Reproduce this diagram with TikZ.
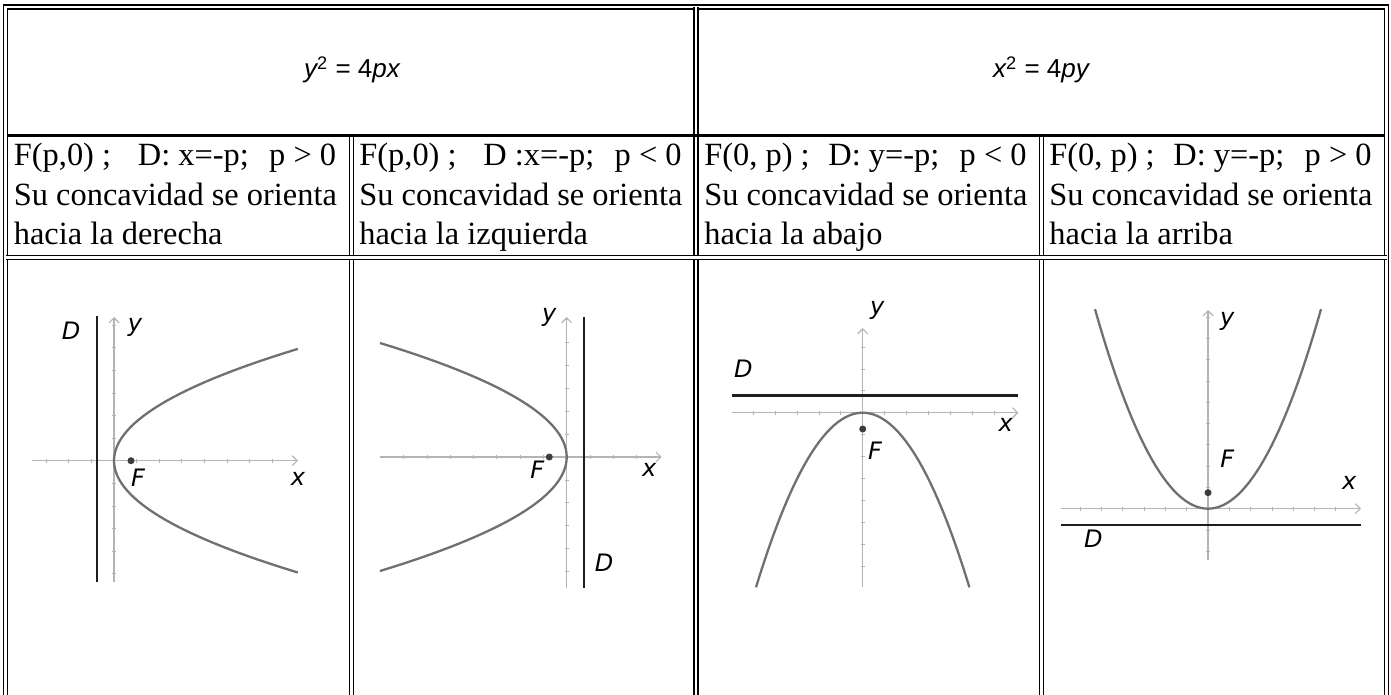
\documentclass[tikz,border=0pt]{standalone}
\usepackage{fontspec}
\setmainfont{Liberation Serif}
\newfontfamily\eqfont{Liberation Sans}
\newfontfamily\ggbfont{DejaVu Sans}
\usetikzlibrary{arrows.meta}
\definecolor{curvegray}{HTML}{707070}
\definecolor{axisgray}{HTML}{B4B4B4}
\definecolor{dirblack}{HTML}{1E1E1E}
\definecolor{focusgray}{HTML}{3C3C3C}
\tikzset{dblrule/.style={line width=0.65pt,double distance=1.35pt},
  celltext/.style={inner sep=0pt,anchor=base west,font=\fontsize{16.2}{19}\selectfont},
  endtext/.style={celltext,anchor=base east},
  eqtext/.style={inner sep=0pt,anchor=base,font=\eqfont\fontsize{13}{15}\selectfont},
  axisarrow/.style={axisgray,line width=0.55pt,-{Straight Barb[length=2.5pt,width=5pt]}},
  tickmark/.style={axisgray,line width=0.4pt},
  directrix/.style={dirblack,line width=1.4pt},
  curve/.style={curvegray,line width=1.15pt},
  focus/.style={fill=focusgray},
  lbl/.style={inner sep=0pt,font=\ggbfont\itshape\fontsize{12}{14}\selectfont}}

\begin{document}
\begin{tikzpicture}[x=0.5pt,y=-0.5pt]
\fill[white,use as bounding box] (0,0) rectangle (1391,695);
\draw[dblrule] (5.5,700) -- (5.5,7) -- (1386.5,7) -- (1386.5,700);
\draw[dblrule] (696,7) -- (696,700);
\foreach \x in {351.5,1041.5} \draw[dblrule] (\x,136) -- (\x,700);
\draw[dblrule] (5.5,257.5) -- (1386.5,257.5);
\draw[line width=1.5pt] (7.5,135.5) -- (1384.5,135.5);

\node[eqtext] (eqh) at (352,78) {{\itshape y}\textsuperscript{2} = 4{\itshape px}};
\node[eqtext] (eqv) at (1041,78) {{\itshape x}\textsuperscript{2} = 4{\itshape py}};

\foreach \i/\c/\fa/\fb/\fc/\lc in {1/7.5/{F(p,0) ;}/{D: x=-p;}/{p > 0}/{hacia la derecha},
  2/353/{F(p,0) ;}/{D :x=-p;}/{p < 0}/{hacia la izquierda},
  3/698/{F(0, p) ;}/{D: y=-p;}/{p < 0}/{hacia la abajo},
  4/1043/{F(0, p) ;}/{D: y=-p;}/{p > 0}/{hacia la arriba}}{
  \node[celltext] (foc\i) at (\c+6,166) {\fa};
  \node[celltext] (dir\i) at (\c+130,166) {\fb};
  \node[endtext] (sgn\i) at (\c+329,166) {\fc};
  \node[celltext] (conc\i) at (\c+6,205.5) {Su concavidad se orienta};
  \node[celltext] (hacia\i) at (\c+6,245) {\lc};
}

\begin{scope}[shift={(114,460.7)}]
\draw[axisarrow] (-82,0) -- (184,0);
\draw[axisarrow] (0,121.3) -- (0,-143.7);
\foreach \k in {-3,...,7} \draw[tickmark] (\k*22.6,-1.8) -- (\k*22.6,1.8);
\foreach \k in {-6,...,5} \draw[tickmark] (-1.8,\k*22.6) -- (1.8,\k*22.6);
\draw[directrix] (-17,-144.7) -- (-17,121.3);
\draw[curve] plot[domain=-111.8:111.8,samples=61] ({\x*\x/68},\x);
\fill[focus] (17,0) circle (1.75pt);
\node[lbl] (D1) at (-43,-129.7) {D};
\node[lbl] (y1) at (21,-133.7) {y};
\node[lbl] (x1) at (184,18.3) {x};
\node[lbl] (F1) at (24,17.3) {F};
\end{scope}

\begin{scope}[shift={(566.7,457)}]
\draw[axisarrow] (-186.7,0) -- (95,0);
\draw[axisarrow] (0,131) -- (0,-140);
\foreach \k in {-7,...,3} \draw[tickmark] (\k*23.3,-1.8) -- (\k*23.3,1.8);
\foreach \k in {-6,...,5} \draw[tickmark] (-1.8,\k*22.9) -- (1.8,\k*22.9);
\draw[directrix] (17.3,-140) -- (17.3,131);
\draw[curve] plot[domain=-114:114,samples=61] ({-\x*\x/69.6},\x);
\fill[focus] (-17.4,0) circle (1.75pt);
\node[lbl] (y2) at (-17.4,-140) {y};
\node[lbl] (F2) at (-29.4,12.3) {F};
\node[lbl] (x2) at (82.6,13) {x};
\node[lbl] (D2) at (37.3,105.7) {D};
\end{scope}

\begin{scope}[shift={(862.7,412.7)}]
\draw[axisarrow] (-131,0) -- (155.6,0);
\draw[axisarrow] (0,174.6) -- (0,-84.7);
\foreach \k in {-5,...,6} \draw[tickmark] (\k*21.9,-1.8) -- (\k*21.9,1.8);
\foreach \k in {-3,...,7} \draw[tickmark] (-1.8,\k*21.9) -- (1.8,\k*21.9);
\draw[directrix] (-131,-17) -- (155.6,-17);
\draw[curve] plot[domain=-106.7:106.7,samples=61] (\x,{\x*\x/65.2});
\fill[focus] (0,16.3) circle (1.75pt);
\node[lbl] (y3) at (14.6,-102) {y};
\node[lbl] (D3) at (-119.4,-44.4) {D};
\node[lbl] (x3) at (143,12.3) {x};
\node[lbl] (F3) at (12.3,38) {F};
\end{scope}

\begin{scope}[shift={(1208,508.7)}]
\draw[axisarrow] (-147,0) -- (153,0);
\draw[axisarrow] (0,51.3) -- (0,-198.7);
\foreach \k in {-6,...,6} \draw[tickmark] (\k*21.3,-1.8) -- (\k*21.3,1.8);
\foreach \k in {-9,...,2} \draw[tickmark] (-1.8,\k*21.3) -- (1.8,\k*21.3);
\draw[directrix] (-147,16.3) -- (153,16.3);
\draw[curve] plot[domain=-113:113,samples=61] (\x,{-\x*\x/64});
\fill[focus] (0,-16) circle (1.75pt);
\node[lbl] (y4) at (19.3,-187.7) {y};
\node[lbl] (F4) at (19.3,-50.4) {F};
\node[lbl] (x4) at (141.3,-26) {x};
\node[lbl] (D4) at (-114.7,30.3) {D};
\end{scope}
\end{tikzpicture}
\end{document}
